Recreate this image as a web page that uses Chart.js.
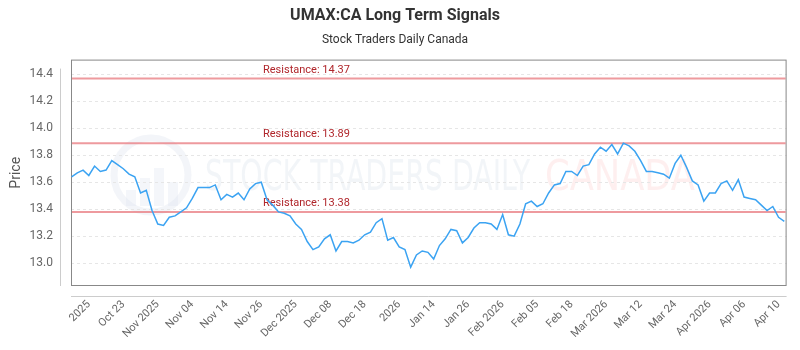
<!DOCTYPE html>
<html>
<head>
<meta charset="utf-8">
<script src="https://cdn.jsdelivr.net/npm/chart.js@4.4.1/dist/chart.umd.min.js"></script>
<style>
  html, body { margin: 0; padding: 0; background: #fff; }
  #wrap { width: 800px; height: 350px; }
</style>
</head>
<body>
<div id="wrap"><canvas id="chart"></canvas></div>
<script>
// daily closes, oldest first
const prices = [
  13.64, 13.67, 13.69, 13.65, 13.72, 13.68, 13.69, 13.76, 13.73, 13.70,
  13.66, 13.64, 13.52, 13.54, 13.39, 13.29, 13.28, 13.34, 13.35, 13.38,
  13.41, 13.48, 13.56, 13.56, 13.56, 13.58, 13.47, 13.51, 13.49, 13.52,
  13.47, 13.55, 13.59, 13.60, 13.47, 13.43, 13.38, 13.37, 13.35, 13.29,
  13.25, 13.16, 13.10, 13.12, 13.18, 13.21, 13.09, 13.16, 13.16, 13.15,
  13.17, 13.21, 13.23, 13.30, 13.33, 13.17, 13.19, 13.12, 13.10, 12.97,
  13.06, 13.09, 13.08, 13.03, 13.13, 13.18, 13.25, 13.24, 13.15, 13.19,
  13.26, 13.30, 13.30, 13.29, 13.25, 13.36, 13.21, 13.20, 13.29, 13.44,
  13.46, 13.42, 13.44, 13.52, 13.58, 13.59, 13.68, 13.68, 13.65, 13.72,
  13.73, 13.81, 13.86, 13.83, 13.88, 13.81, 13.89, 13.87, 13.83, 13.76,
  13.68, 13.68, 13.67, 13.66, 13.63, 13.74, 13.80, 13.71, 13.61, 13.58,
  13.46, 13.52, 13.52, 13.59, 13.61, 13.54, 13.62, 13.49, 13.48, 13.47,
  13.43, 13.39, 13.42, 13.34, 13.31
];

const tickIndex = [3, 9, 15, 21, 27, 33, 39, 45, 51, 57, 63, 69, 75, 81, 87, 93, 99, 105, 111, 117, 123];
const tickLabels = ['2025', 'Oct 23', 'Nov 2025', 'Nov 04', 'Nov 14', 'Nov 26', 'Dec 2025', 'Dec 08', 'Dec 18', '2026',
  'Jan 14', 'Jan 26', 'Feb 2026', 'Feb 05', 'Feb 18', 'Mar 2026', 'Mar 12', 'Mar 24', 'Apr 2026', 'Apr 06', 'Apr 10'];
const yTicks = [13.0, 13.2, 13.4, 13.6, 13.8, 14.0, 14.2, 14.4];
const resistance = [14.37, 13.89, 13.38];

const FONT = "'Roboto', 'Noto Sans', sans-serif";

// watermark, plot frame, resistance levels
const decorations = {
  id: 'decorations',
  beforeDraw(chart) {
    const ctx = chart.ctx;
    ctx.save();
    // logo circle
    ctx.strokeStyle = 'rgba(215,222,235,0.3)';
    ctx.lineWidth = 7;
    ctx.beginPath();
    ctx.arc(151, 175, 37, 0, Math.PI * 2);
    ctx.stroke();
    ctx.fillStyle = 'rgba(220,226,238,0.3)';
    [[126, 190, 10, 16], [140, 178, 10, 28], [154, 168, 10, 38], [168, 182, 10, 24]].forEach(b => ctx.fillRect(b[0], b[1], b[2], b[3]));
    ctx.font = "42px 'Liberation Sans Narrow', 'DejaVu Sans Condensed', sans-serif";
    ctx.textBaseline = 'middle';
    ctx.fillStyle = 'rgba(210,218,230,0.28)';
    ctx.fillText('STOCK TRADERS DAILY', 205, 179, 325);
    ctx.fillStyle = 'rgba(250,190,190,0.25)';
    ctx.fillText('CANADA', 545, 179, 150);
    ctx.restore();
  },
  beforeDatasetsDraw(chart) {
    const { ctx, chartArea: a, scales: { y } } = chart;
    ctx.save();
    // offset axis lines
    ctx.strokeStyle = '#cccccc';
    ctx.lineWidth = 1;
    ctx.beginPath();
    ctx.moveTo(a.left - 10.5, a.top + 9);
    ctx.lineTo(a.left - 10.5, a.bottom);
    ctx.moveTo(a.left, a.bottom + 10.5);
    ctx.lineTo(a.right, a.bottom + 10.5);
    ctx.stroke();
    // frame
    ctx.strokeStyle = '#888888';
    ctx.strokeRect(a.left + 0.5, a.top + 0.5, a.right - a.left - 1, a.bottom - a.top - 1);
    // resistance
    ctx.font = '11px ' + FONT;
    ctx.textBaseline = 'bottom';
    resistance.forEach(r => {
      const py = y.getPixelForValue(r);
      ctx.strokeStyle = 'rgba(232,120,125,0.75)';
      ctx.lineWidth = 2;
      ctx.beginPath();
      ctx.moveTo(a.left + 1, py);
      ctx.lineTo(a.right - 1, py);
      ctx.stroke();
      ctx.fillStyle = '#b0262b';
      ctx.fillText('Resistance: ' + r.toFixed(2), a.left + 192, py - 3);
    });
    ctx.restore();
  }
};

new Chart(document.getElementById('chart'), {
  type: 'line',
  data: {
    datasets: [{
      data: prices.map((p, i) => ({ x: i, y: p })),
      borderColor: '#3ba3f2',
      borderWidth: 1.5,
      pointRadius: 0,
      tension: 0,
      fill: false
    }]
  },
  options: {
    responsive: true,
    maintainAspectRatio: false,
    animation: false,
    layout: { padding: { right: 10 } },
    plugins: {
      legend: { display: false },
      tooltip: { enabled: false },
      title: {
        display: true,
        text: 'UMAX:CA Long Term Signals',
        color: '#333333',
        font: { family: FONT, size: 16, weight: 'bold' },
        padding: { top: 6, bottom: 8 }
      },
      subtitle: {
        display: true,
        text: 'Stock Traders Daily Canada',
        color: '#333333',
        font: { family: FONT, size: 12 },
        padding: { bottom: 12 }
      }
    },
    scales: {
      x: {
        type: 'linear',
        min: -0.1,
        max: 124.4,
        afterFit: s => { s.height = 64; },
        afterBuildTicks: s => { s.ticks = tickIndex.map(v => ({ value: v })); },
        grid: { display: false, drawTicks: false },
        border: { display: false },
        ticks: {
          autoSkip: false,
          minRotation: 45,
          maxRotation: 45,
          padding: 12,
          color: '#666666',
          font: { family: FONT, size: 11 },
          callback: (v, i) => tickLabels[i]
        }
      },
      y: {
        min: 12.83,
        max: 14.51,
        afterFit: s => { s.width = 71; },
        afterBuildTicks: s => { s.ticks = yTicks.map(v => ({ value: v })); },
        grid: { color: '#e6e6e6', drawTicks: false },
        border: { display: false, dash: [3, 3] },
        ticks: {
          padding: 18,
          color: '#666666',
          font: { family: FONT, size: 12 },
          callback: v => v.toFixed(1)
        },
        title: {
          display: true,
          text: 'Price',
          color: '#555555',
          font: { family: FONT, size: 14 },
          padding: { top: 8 }
        }
      }
    }
  },
  plugins: [decorations]
});
</script>
</body>
</html>
